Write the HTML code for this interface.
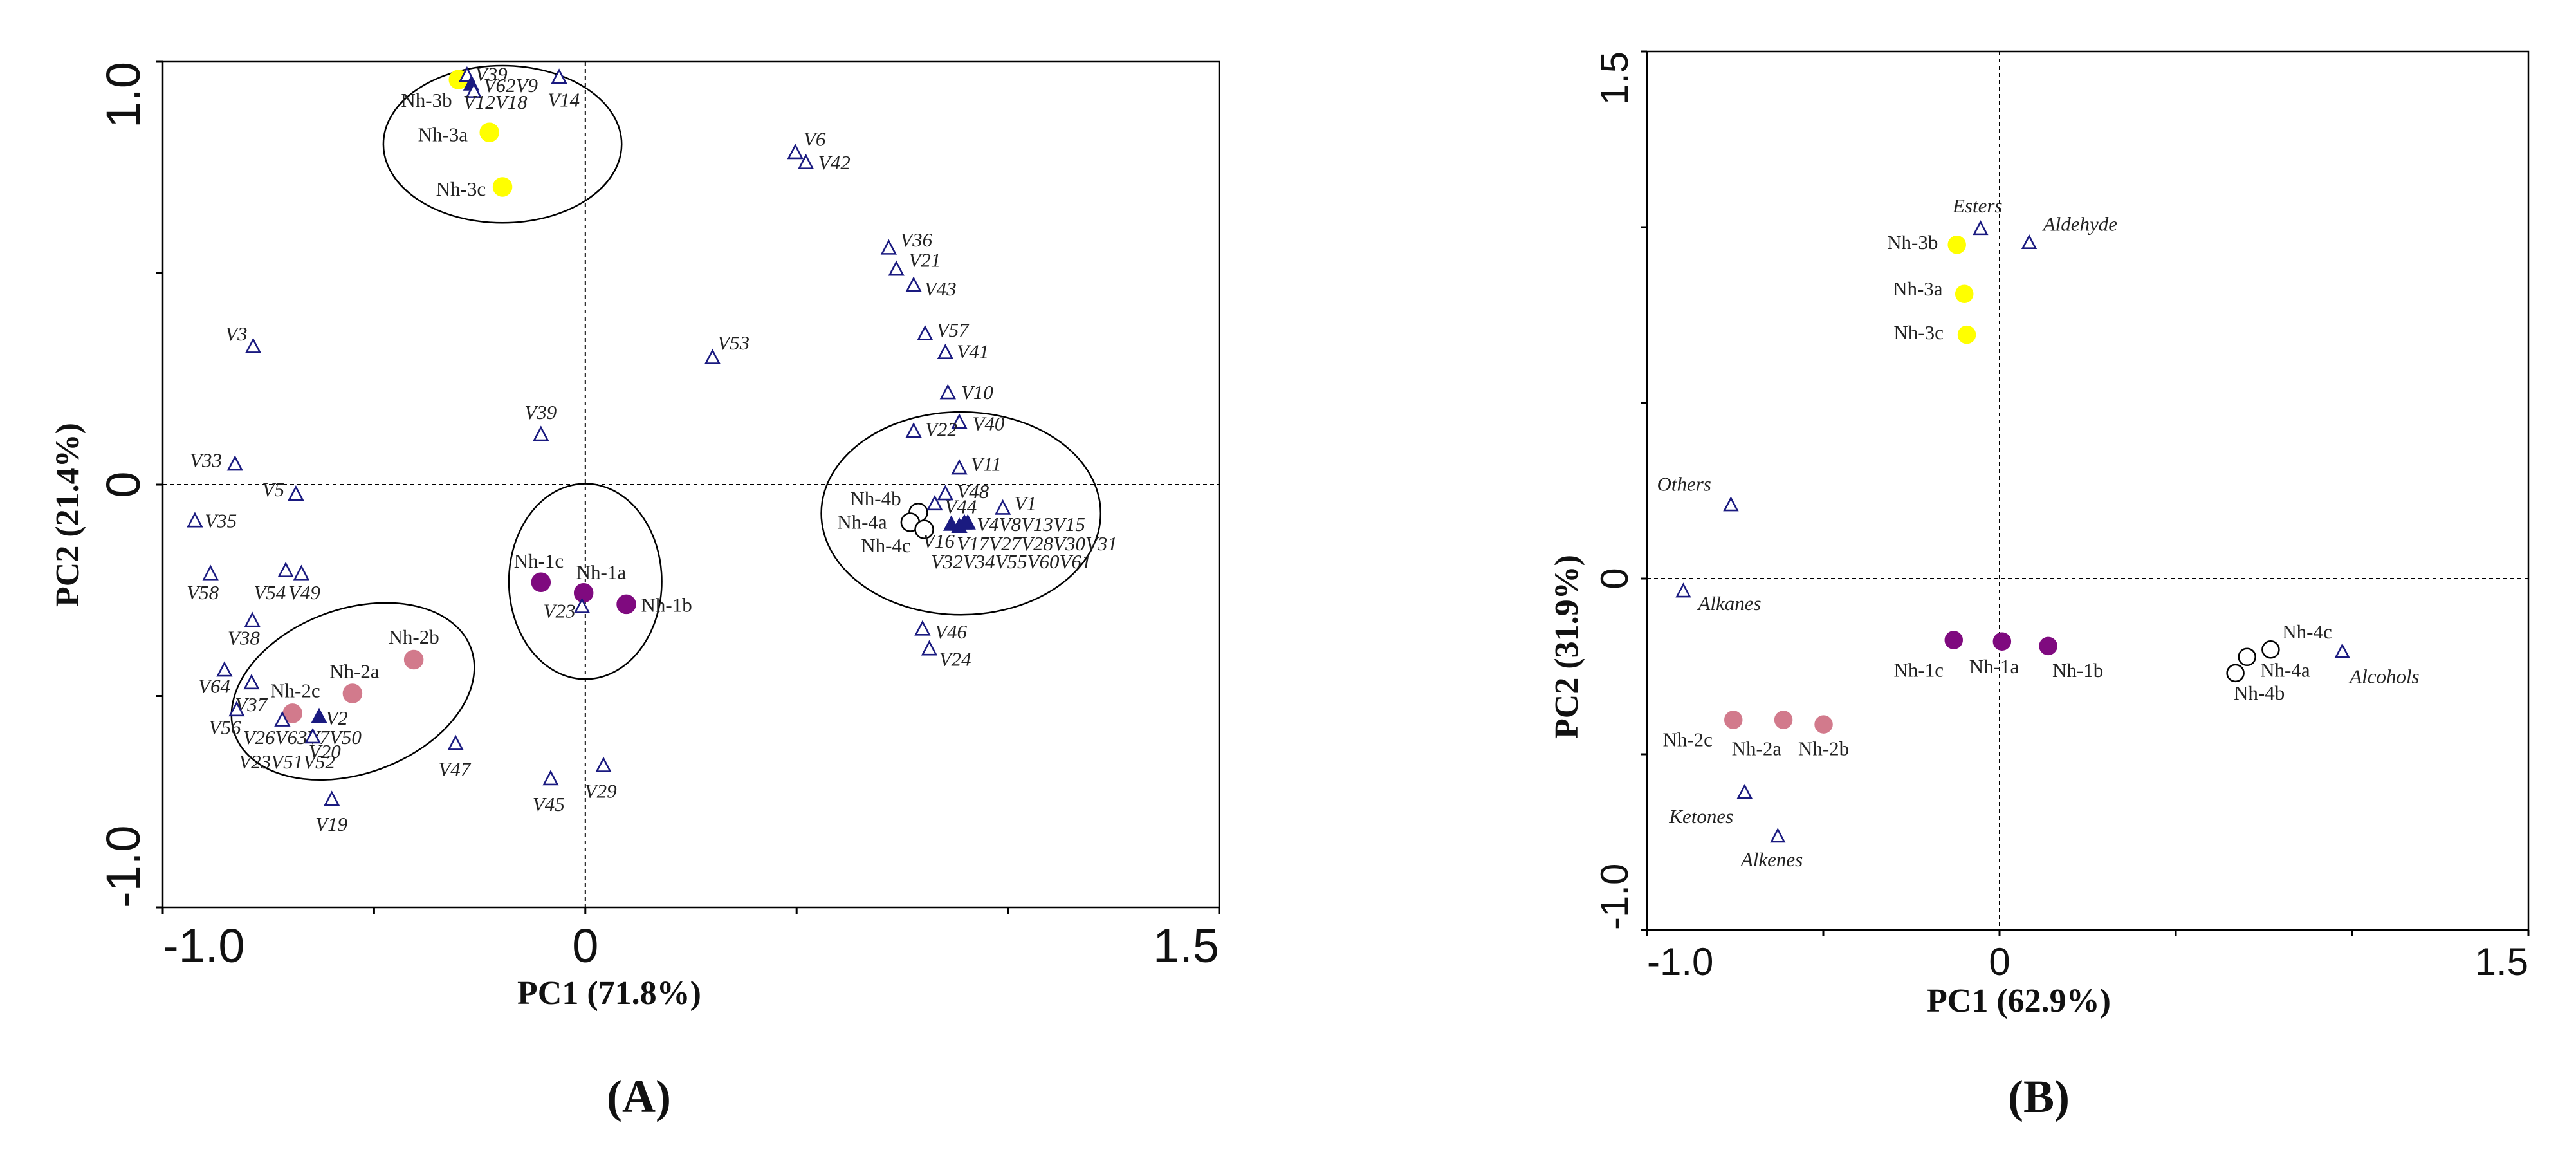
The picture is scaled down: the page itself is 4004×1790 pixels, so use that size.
<!DOCTYPE html>
<html><head><meta charset="utf-8"><style>
html,body{margin:0;padding:0;background:#fff;overflow:hidden;}
svg{display:block;}
.tk{font-family:"Liberation Sans",sans-serif;fill:#111;}
.ti{font-family:"Liberation Serif",serif;font-weight:bold;fill:#111;}
.pl{font-family:"Liberation Serif",serif;fill:#222;font-size:31px;}
.vl{font-family:"Liberation Serif",serif;font-style:italic;fill:#222;font-size:31px;}
</style></head><body>
<svg id="chart" width="4004" height="1790" viewBox="0 0 4004 1790" xmlns="http://www.w3.org/2000/svg">
<g id="A"></g>
<g id="B"></g>
</svg>
<script>
// ---- Panel A data ----
const aTriNames=["V39","V62V9","V12V18","V14","V6","V42","V36","V21","V43","V57","V41","V53","V3","V10","V40","V22","V39","V33","V11","V5","V48","V1","V44","V35","V4V8V13V15","V16","V17V27V28V30V31","V32V34V55V60V61","V58","V54","V49","V38","V23","V46","V24","V64","V37","V56","V26V63V7V50","V2","V20","V23V51V52","V47","V29","V45","V19"];
const aTriX=[-0.28,-0.27,-0.264,-0.062,0.497,0.522,0.718,0.736,0.777,0.804,0.852,0.301,-0.786,0.858,0.885,0.777,-0.105,-0.829,0.885,-0.685,0.852,0.988,0.827,-0.924,0.897,0.866,0.885,0.905,-0.887,-0.709,-0.672,-0.788,-0.008,0.798,0.814,-0.854,-0.79,-0.825,-0.717,-0.63,-0.645,-0.645,-0.307,0.043,-0.082,-0.6];
const aTriY=[0.967,0.946,0.929,0.962,0.784,0.760,0.558,0.508,0.470,0.355,0.311,0.299,0.325,0.216,0.146,0.125,0.117,0.047,0.038,-0.024,-0.023,-0.057,-0.047,-0.087,-0.092,-0.095,-0.1,-0.092,-0.212,-0.205,-0.212,-0.323,-0.29,-0.343,-0.39,-0.44,-0.47,-0.534,-0.558,-0.55,-0.598,-0.598,-0.614,-0.666,-0.697,-0.746];
const aTriFill=[0,1,0,0,0,0,0,0,0,0,0,0,0,0,0,0,0,0,0,0,0,0,0,0,1,1,1,1,0,0,0,0,0,0,0,0,0,0,0,1,0,0,0,0,0,0];
const aTriLdx=[10,15,-13,-14,10,15,14,15,13,14,14,6,-34,16,16,14,-20,-55,14,-41,14,14,12,12,15,-35,-3,-45,-29,-39,-16,-30,-47,15,12,-32,-20,-34,-48,8,-5,-90,-21,-23,-22,-20];
const aTriLdy=[7,10,23,39,-10,8,-3,-4,13,3,7,-12,-9,8,10,6,-22,3,3,2,5,2,12,8,10,31,32,61,34,38,34,32,14,12,22,30,38,32,32,10,28,42,43,43,43,42];
const aCirNames=["Nh-3b","Nh-3a","Nh-3c","Nh-1c","Nh-1a","Nh-1b","Nh-2b","Nh-2a","Nh-2c","Nh-4b","Nh-4a","Nh-4c"];
const aCirX=[-0.3,-0.227,-0.196,-0.105,-0.004,0.097,-0.406,-0.551,-0.693,0.788,0.769,0.802];
const aCirY=[0.958,0.833,0.704,-0.231,-0.256,-0.283,-0.414,-0.494,-0.541,-0.066,-0.089,-0.106];
const aCirGroup=[3,3,3,1,1,1,2,2,2,4,4,4];
const aCirLdx=[-70,-87,-81,-33,-9,18,-31,-28,-27,-83,-89,-77];
const aCirLdy=[37,12,12,-20,-19,10,-22,-21,-22,-10,9,31];
// ---- Panel B data ----
const bTriNames=["Esters","Aldehyde","Others","Alkanes","Alcohols","Ketones","Alkenes"];
const bTriX=[-0.054,0.084,-0.762,-0.897,0.972,-0.723,-0.629];
const bTriY=[0.994,0.954,0.208,-0.0375,-0.21,-0.61,-0.735];
const bTriLdx=[-34,17,-90,18,9,-92,-45];
const bTriLdy=[-23,-17,-20,25,42,41,40];
const bCirNames=["Nh-3b","Nh-3a","Nh-3c","Nh-1c","Nh-1a","Nh-1b","Nh-4c","Nh-4a","Nh-4b","Nh-2c","Nh-2a","Nh-2b"];
const bCirX=[-0.121,-0.1,-0.093,-0.13,0.007,0.138,0.769,0.702,0.669,-0.755,-0.613,-0.499];
const bCirY=[0.95,0.81,0.694,-0.175,-0.179,-0.192,-0.202,-0.223,-0.269,-0.402,-0.402,-0.415];
const bCirGroup=[3,3,3,1,1,1,4,4,4,2,2,2];
const bCirLdx=[-85,-87,-89,-73,-40,5,14,16,-2,-86,-63,-31];
const bCirLdy=[6,2,6,50,43,42,-15,27,36,36,48,42];
const groupColors={1:"#7f0a7f",2:"#d27a8c",3:"#ffff00",4:"#ffffff"};

const KX=1.277, KY=1.1416;
const NS="http://www.w3.org/2000/svg";
function mk(parent,tag,attrs,text){const e=document.createElementNS(NS,tag);for(const k in attrs)e.setAttribute(k,attrs[k]);if(text!==undefined)e.textContent=text;parent.appendChild(e);return e;}

function panel(g,cfg){
  const sx=v=>cfg.x0+(v-cfg.xmin)*(cfg.x1-cfg.x0)/(cfg.xmax-cfg.xmin);
  const sy=v=>cfg.y1-(v-cfg.ymin)*(cfg.y1-cfg.y0)/(cfg.ymax-cfg.ymin);
  const fr=mk(g,'rect',{x:cfg.x0,y:cfg.y0,width:cfg.x1-cfg.x0,height:cfg.y1-cfg.y0,fill:'none',stroke:'#000','stroke-width':2.5});
  
  
  const hz=mk(g,'line',{x1:cfg.x0,x2:cfg.x1,y1:sy(0),y2:sy(0),stroke:'#000','stroke-width':2,'stroke-dasharray':'6,5'});
  
  
  const vt=mk(g,'line',{x1:sx(0),x2:sx(0),y1:cfg.y0,y2:cfg.y1,stroke:'#000','stroke-width':2,'stroke-dasharray':'6,5'});
  
  
  cfg.xticks.forEach(t=>{const l=mk(g,'line',{x1:sx(t),x2:sx(t),y1:cfg.y1,y2:cfg.y1+10,stroke:'#000','stroke-width':3});
    
    });
  cfg.yticks.forEach(t=>{const l=mk(g,'line',{x1:cfg.x0-10,x2:cfg.x0,y1:sy(t),y2:sy(t),stroke:'#000','stroke-width':3});
    
    });
  cfg.xlabels.forEach(([t,v,anchor])=>{const e=mk(g,'text',{x:sx(v),y:cfg.y1+cfg.tkOff,'font-size':cfg.tkFs,'text-anchor':anchor,class:'tk'},t);
    
    });
  cfg.ylabels.forEach(([t,v,anchor])=>{const e=mk(g,'text',{x:0,y:0,'font-size':cfg.tkFs,'text-anchor':anchor,class:'tk',transform:`translate(${cfg.x0-cfg.ytkOff},${sy(v)}) rotate(-90)`},t);
    
    });
  const xt=mk(g,'text',{x:cfg.xtx,y:cfg.xty,'font-size':52,'text-anchor':'middle',class:'ti'},cfg.xtitle);
  
  
  const yt=mk(g,'text',{x:0,y:0,'font-size':52,'text-anchor':'middle',class:'ti',transform:`translate(${cfg.ytx},${cfg.yty}) rotate(-90)`},cfg.ytitle);
  
  
  const pl=mk(g,'text',{x:cfg.plx,y:1728,'font-size':72,'text-anchor':'middle',class:'ti','font-weight':'normal'},'');
  pl.innerHTML='(<tspan font-weight="bold">'+cfg.panel+'</tspan>)';
  
  
  return {sx,sy};
}
function tri(g,x,y,s,filled){const h=s*0.95;const p=mk(g,'polygon',{points:`${x},${y-h*0.6} ${x-s/2},${y+h*0.4} ${x+s/2},${y+h*0.4}`,fill:filled?'#1a1a80':'#fff',stroke:'#1a1a80','stroke-width':2.6});
  
  }
function cir(g,x,y,r,grp){const c=mk(g,'circle',{cx:x,cy:y,r:r,fill:groupColors[grp],stroke:grp==4?'#000':groupColors[grp],'stroke-width':2.5});
  
  }

// Panel A
const gA=document.getElementById('A');
const A=panel(gA,{x0:253,x1:1895,y0:96,y1:1410,xmin:-1,xmax:1.5,ymin:-1,ymax:1,tkFs:74,tkOff:85,ytkOff:36,
  xticks:[-1,-0.5,0,0.5,1,1.5],yticks:[1,0.5,0,-0.5,-1],
  xlabels:[["-1.0",-1,'start'],["0",0,'middle'],["1.5",1.5,'end']],ylabels:[["1.0",1,'end'],["0",0,'middle'],["-1.0",-1,'start']],
  xtitle:"PC1 (71.8%)",xtx:947,xty:1560,ytitle:"PC2 (21.4%)",ytx:122,yty:800,panel:"A",plx:993});
[[-0.196,0.805,145,107,0],[0,-0.229,93,133,0],[-0.55,-0.489,153,112,-20],[0.889,-0.068,170,138,0]].forEach(([cx,cy,rx,ry,rot])=>{
  const e=mk(gA,'ellipse',{cx:A.sx(cx),cy:A.sy(cy),rx:rx*KX,ry:ry*KY,fill:'none',stroke:'#000','stroke-width':2.5,transform:`rotate(${rot} ${A.sx(cx)} ${A.sy(cy)})`});
  
  
});
aCirNames.forEach((n,i)=>{const x=A.sx(aCirX[i]),y=A.sy(aCirY[i]);cir(gA,x,y,14,aCirGroup[i]);
  const t=mk(gA,'text',{x:x+aCirLdx[i]*KX,y:y+aCirLdy[i]*KY,class:'pl'},n);
  
  });
aTriNames.forEach((n,i)=>{const x=A.sx(aTriX[i]),y=A.sy(aTriY[i]);tri(gA,x,y,21,aTriFill[i]);
  const t=mk(gA,'text',{x:x+aTriLdx[i]*KX,y:y+aTriLdy[i]*KY,class:'vl'},n);
  
  });

// Panel B
const gB=document.getElementById('B');
const B=panel(gB,{x0:2560,x1:3930,y0:80,y1:1445,xmin:-1,xmax:1.5,ymin:-1,ymax:1.5,tkFs:60,tkOff:70,ytkOff:30,
  xticks:[-1,-0.5,0,0.5,1,1.5],yticks:[1.5,1,0.5,0,-0.5,-1],
  xlabels:[["-1.0",-1,'start'],["0",0,'middle'],["1.5",1.5,'end']],ylabels:[["1.5",1.5,'end'],["0",0,'middle'],["-1.0",-1,'start']],
  xtitle:"PC1 (62.9%)",xtx:3138,xty:1572,ytitle:"PC2 (31.9%)",ytx:2452,yty:1005,panel:"B",plx:3169});
bCirNames.forEach((n,i)=>{const x=B.sx(bCirX[i]),y=B.sy(bCirY[i]);cir(gB,x,y,13,bCirGroup[i]);
  const t=mk(gB,'text',{x:x+bCirLdx[i]*KX,y:y+bCirLdy[i]*KY,class:'pl'},n);
  
  });
bTriNames.forEach((n,i)=>{const x=B.sx(bTriX[i]),y=B.sy(bTriY[i]);tri(gB,x,y,20,0);
  const t=mk(gB,'text',{x:x+bTriLdx[i]*KX,y:y+bTriLdy[i]*KY,class:'vl'},n);
  
  });
</script>
</body></html>
